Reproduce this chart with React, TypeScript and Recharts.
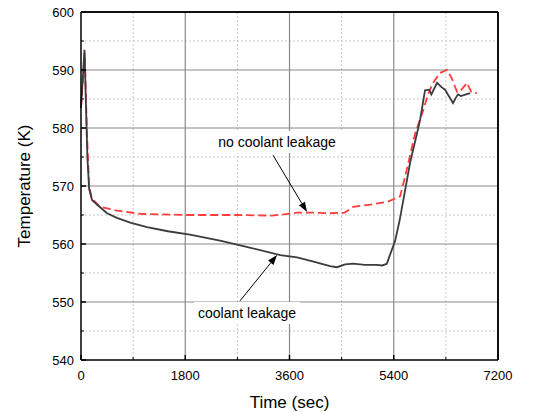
import { LineChart, Line, XAxis, YAxis, CartesianGrid, ReferenceLine, ReferenceDot, Label } from 'recharts'

// coolant leakage (solid)
const leakTime = [0, 60, 110, 140, 190, 300, 450, 620, 850, 1140, 1500, 1880, 2400, 2860, 3440, 3730, 4000, 4300, 4420, 4560, 4700, 4900, 5100, 5200, 5280, 5330, 5423, 5500, 5544, 5682, 5800, 5855, 5940, 6010, 6050, 6148, 6230, 6286, 6340, 6424, 6470, 6510, 6560, 6620, 6718]
const leakTemp = [583.5, 593.5, 575, 569.5, 567.6, 566.6, 565.3, 564.5, 563.7, 562.9, 562.2, 561.6, 560.6, 559.5, 558.1, 557.7, 557.0, 556.2, 556.0, 556.5, 556.6, 556.4, 556.4, 556.3, 556.6, 558, 560.5, 564, 566.4, 574, 579, 581.4, 586.5, 586.6, 585.8, 587.8, 587, 586.6, 585.7, 584.3, 585.2, 585.8, 585.5, 585.7, 586]

// no coolant leakage (dashed)
const noLeakTime = [0, 65, 100, 140, 190, 330, 600, 1020, 1800, 2700, 3300, 3500, 3730, 4000, 4300, 4550, 4700, 5000, 5300, 5509, 5596, 5768, 5906, 6000, 6079, 6200, 6321, 6400, 6494, 6560, 6666, 6700, 6740, 6839]
const noLeakTemp = [583.5, 593, 580, 570, 567.8, 566.4, 565.8, 565.2, 565.0, 565.0, 564.9, 565.1, 565.4, 565.4, 565.3, 565.4, 566.4, 566.8, 567.3, 568.2, 571.6, 579, 583, 586, 587.8, 589.5, 590, 588.6, 586.2, 586.5, 587.8, 587, 586.2, 586]

const xTicks = [0, 900, 1800, 2700, 3600, 4500, 5400, 6300, 7200]
const yTicks = [540, 545, 550, 555, 560, 565, 570, 575, 580, 585, 590, 595, 600]
const xMajor = [1800, 3600, 5400]
const yMajor = [550, 560, 570, 580, 590]
const xMinor = [900, 2700, 4500, 6300]
const yMinor = [545, 555, 565, 575, 585, 595]

// annotations: [arrow start, arrow end, text position]
const noLeakNote = { text: 'no coolant leakage', from: [3316, 575.3], to: [3903, 565.5], at: [3385, 577.6] }
const leakNote = { text: 'coolant leakage', from: [2746, 550.2], to: [3385, 558.1], at: [2867, 548.1] }

const leakData = leakTime.map((t, i) => ({ t, temp: leakTemp[i] }))
const noLeakData = noLeakTime.map((t, i) => ({ t, temp: noLeakTemp[i] }))

const font = 'Liberation Sans, Arial, sans-serif'

const XTick = (props: any) => {
  const { x, y, payload } = props
  const major = payload.value % 1800 === 0
  return (
    <g>
      <line x1={x} y1={y} x2={x} y2={y - (major ? 5 : 3)} stroke="#000" strokeWidth={major ? 1.5 : 1} />
      {major && (
        <text x={x} y={y + 20} textAnchor="middle" fontSize={13} fontFamily={font} fill="#000">{payload.value}</text>
      )}
    </g>
  )
}

const TopTick = (props: any) => {
  const { x, y, payload } = props
  const major = payload.value % 1800 === 0
  return <line x1={x} y1={y} x2={x} y2={y + (major ? 5 : 3)} stroke="#000" strokeWidth={major ? 1.5 : 1} />
}

const YTick = (props: any) => {
  const { x, y, payload } = props
  const major = payload.value % 10 === 0
  return (
    <g>
      <line x1={x} y1={y} x2={x + (major ? 5 : 3)} y2={y} stroke="#000" strokeWidth={major ? 1.5 : 1} />
      {major && (
        <text x={x - 7} y={y + 5} textAnchor="end" fontSize={13} fontFamily={font} fill="#000">{payload.value}</text>
      )}
    </g>
  )
}

const RightTick = (props: any) => {
  const { x, y, payload } = props
  const major = payload.value % 10 === 0
  return <line x1={x} y1={y} x2={x - (major ? 5 : 3)} y2={y} stroke="#000" strokeWidth={major ? 1.5 : 1} />
}

const Arrow = (props: any) => {
  const { x1, y1, x2, y2 } = props
  const a = Math.atan2(y2 - y1, x2 - x1)
  const len = 10, w = 3.5
  const bx = x2 - len * Math.cos(a), by = y2 - len * Math.sin(a)
  const p1 = `${bx + w * Math.sin(a)},${by - w * Math.cos(a)}`
  const p2 = `${bx - w * Math.sin(a)},${by + w * Math.cos(a)}`
  return (
    <g>
      <line x1={x1} y1={y1} x2={bx} y2={by} stroke="#000" strokeWidth={1} />
      <polygon points={`${x2},${y2} ${p1} ${p2}`} fill="#000" />
    </g>
  )
}

const note = (text: string, width: number) => (props: any) => {
  const { cx, cy } = props
  return (
    <g>
      <rect x={cx - width / 2} y={cy - 11} width={width} height={22} fill="#fff" />
      <text x={cx} y={cy + 5} textAnchor="middle" fontSize={14} fontFamily={font} fill="#000">{text}</text>
    </g>
  )
}

export default function App() {
  return (
    <div style={{ position: 'absolute', left: 0, top: 0, background: '#fff' }}>
      <LineChart width={534} height={412} margin={{ top: 11, right: 35, left: 0, bottom: 0 }}>
        <CartesianGrid verticalValues={xMinor} horizontalValues={yMinor} stroke="#c8c8c8" strokeDasharray="2 2" />
        <CartesianGrid verticalValues={xMajor} horizontalValues={yMajor} stroke="#8a8a8a" strokeWidth={1.2} />
        <XAxis
          dataKey="t"
          type="number"
          domain={[0, 7200]}
          ticks={xTicks}
          allowDuplicatedCategory={false}
          height={52}
          tickSize={0}
          tickMargin={0}
          tickLine={false}
          tick={<XTick />}
          interval={0}
          axisLine={{ stroke: '#000', strokeWidth: 1.5 }}
        >
          <Label value="Time (sec)" position="insideBottom" offset={4} style={{ fontSize: 17, fontFamily: font, fill: '#000' }} />
        </XAxis>
        <XAxis
          xAxisId="top"
          orientation="top"
          type="number"
          domain={[0, 7200]}
          ticks={xTicks}
          height={1}
          tickSize={0}
          tickMargin={0}
          tickLine={false}
          tick={<TopTick />}
          interval={0}
          axisLine={{ stroke: '#000', strokeWidth: 1.5 }}
        />
        <YAxis
          type="number"
          domain={[540, 600]}
          ticks={yTicks}
          width={81}
          tickSize={0}
          tickMargin={0}
          tickLine={false}
          tick={<YTick />}
          interval={0}
          axisLine={{ stroke: '#000', strokeWidth: 1.5 }}
        >
          <Label value="Temperature (K)" angle={-90} position="insideLeft" offset={24} style={{ fontSize: 17, fontFamily: font, fill: '#000', textAnchor: 'middle' }} />
        </YAxis>
        <YAxis
          yAxisId="right"
          orientation="right"
          type="number"
          domain={[540, 600]}
          ticks={yTicks}
          width={1}
          tickSize={0}
          tickMargin={0}
          tickLine={false}
          tick={<RightTick />}
          interval={0}
          axisLine={{ stroke: '#000', strokeWidth: 1.5 }}
        />
        <ReferenceLine y={600} stroke="#000" strokeWidth={1.5} />
        <ReferenceLine x={7200} stroke="#000" strokeWidth={1.5} />
        <ReferenceDot x={noLeakNote.at[0]} y={noLeakNote.at[1]} shape={note(noLeakNote.text, 130)} ifOverflow="visible" />
        <ReferenceDot x={leakNote.at[0]} y={leakNote.at[1]} shape={note(leakNote.text, 106)} ifOverflow="visible" />
        <Line
          data={noLeakData}
          dataKey="temp"
          type="linear"
          stroke="#ff3b3b"
          strokeWidth={1.8}
          strokeDasharray="8 4"
          dot={false}
          isAnimationActive={false}
        />
        <Line
          data={leakData}
          dataKey="temp"
          type="linear"
          stroke="#3c3c3c"
          strokeWidth={1.8}
          dot={false}
          isAnimationActive={false}
        />
        <ReferenceLine
          segment={[{ x: noLeakNote.from[0], y: noLeakNote.from[1] }, { x: noLeakNote.to[0], y: noLeakNote.to[1] }]}
          shape={<Arrow />}
          ifOverflow="visible"
        />
        <ReferenceLine
          segment={[{ x: leakNote.from[0], y: leakNote.from[1] }, { x: leakNote.to[0], y: leakNote.to[1] }]}
          shape={<Arrow />}
          ifOverflow="visible"
        />
      </LineChart>
    </div>
  )
}
